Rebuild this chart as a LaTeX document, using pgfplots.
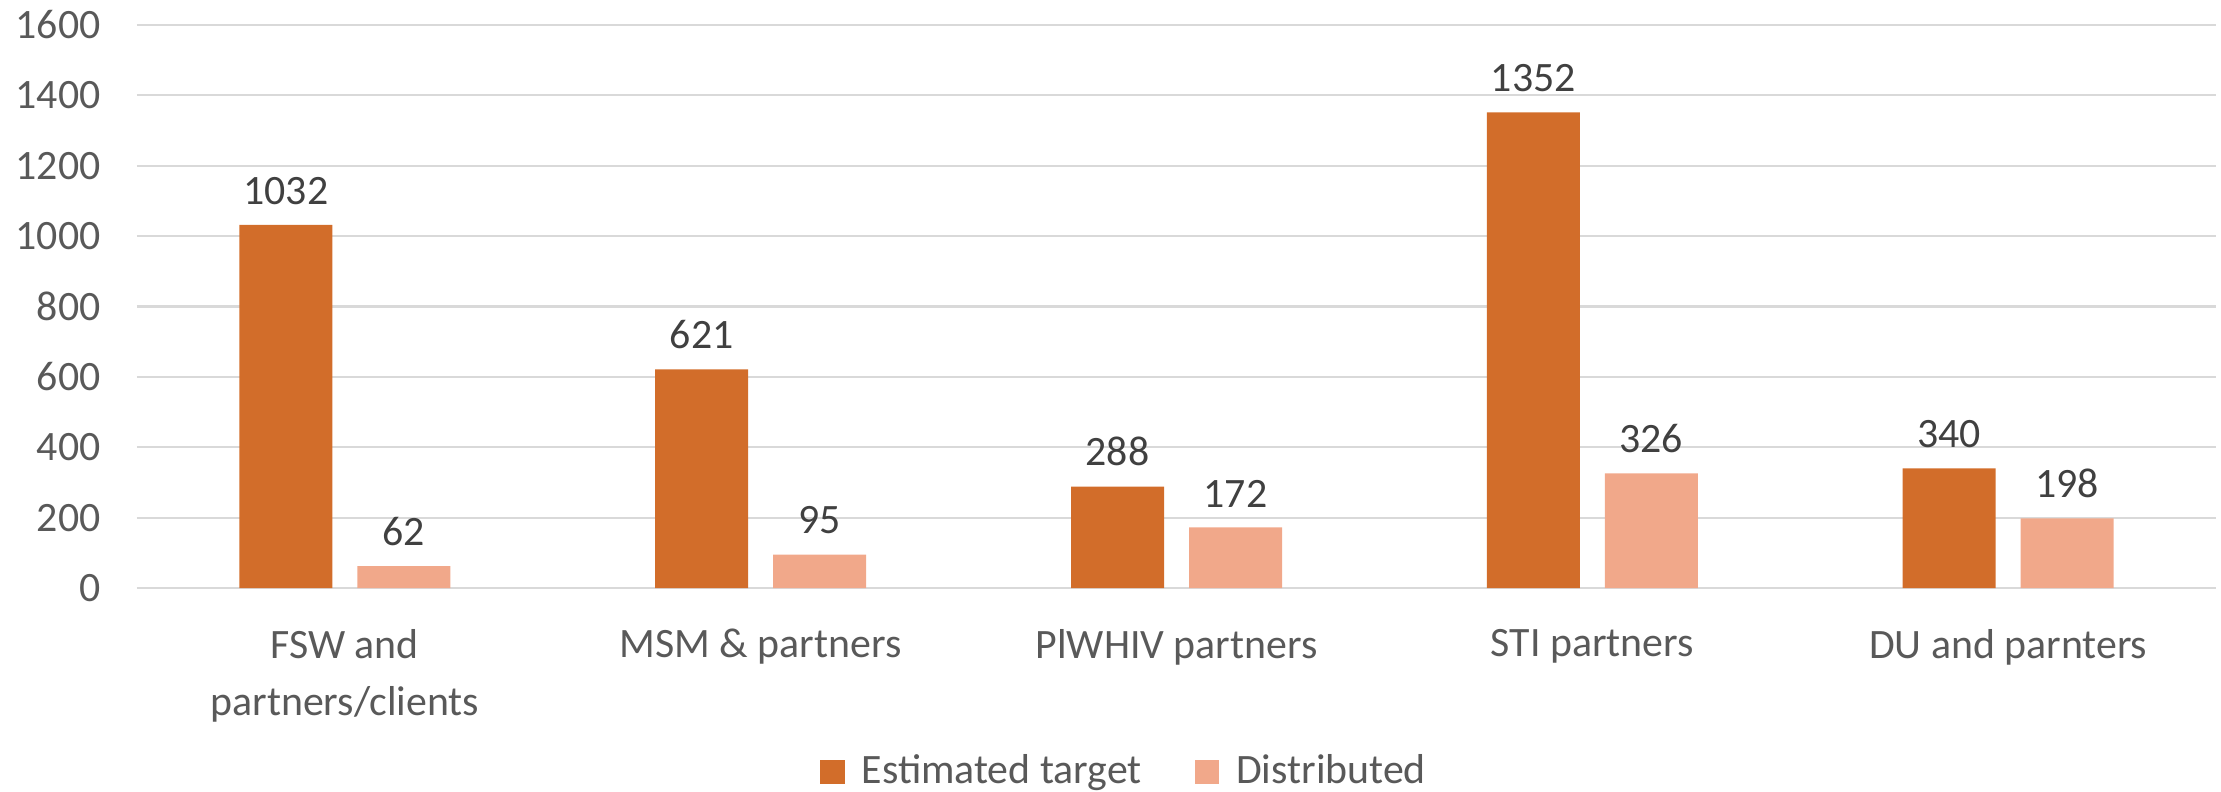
\documentclass[border=0pt]{standalone}
\usepackage{fontspec}
\setmainfont{Carlito}
\usepackage{pgfplots}
\pgfplotsset{compat=1.18}
\definecolor{target}{HTML}{D26D2A}
\definecolor{distrib}{HTML}{F1A88A}
\definecolor{gridgray}{HTML}{D9D9D9}
\definecolor{ticktext}{HTML}{595959}
\definecolor{valtext}{HTML}{404040}
\newcommand{\chartfont}{\fontsize{11.9}{16.2}\selectfont}

\begin{document}
\begin{tikzpicture}
\useasboundingbox (-1.37,-2.03) rectangle (20.84,5.88);
\begin{axis}[
  at={(0,0)}, anchor=south west,
  scale only axis, width=20.79cm, height=5.63cm,
  ybar=2.5mm, bar width=9.3mm,
  xmin=-0.5, xmax=4.5, ymin=0, ymax=1600,
  ytick={0,200,...,1600},
  xtick={0,1,2,3,4},
  xticklabels={{FSW and\\partners/clients},{MSM \& partners},{PlWHIV partners},{STI partners},{DU and parnters}},
  x tick label style={align=center, yshift=-2.9mm},
  y tick label style={xshift=-2.4mm},
  tick label style={font=\chartfont, text=ticktext},
  major tick length=0pt,
  axis line style={draw=none},
  ymajorgrids, grid style={gridgray, line width=0.6pt},
  nodes near coords,
  nodes near coords style={font=\chartfont, text=valtext, yshift=0.8mm},
  /pgf/number format/assume math mode=true,
  /pgf/number format/1000 sep={},
  legend style={at={(0.476,-0.327)}, anchor=center, draw=none, legend columns=2,
    font=\chartfont, text=ticktext,
    /tikz/every odd column/.append style={column sep=1mm},
    /tikz/every even column/.append style={column sep=4.6mm}},
  legend image code/.code={\fill[#1] (0mm,-1.2mm) rectangle (2.45mm,1.25mm);},
]
\addplot[fill=target, draw=none] coordinates {(0,1032) (1,621) (2,288) (3,1352) (4,340)};
\addplot[fill=distrib, draw=none] coordinates {(0,62) (1,95) (2,172) (3,326) (4,198)};
\legend{Estimated target, Distributed}
\end{axis}
\end{tikzpicture}
\end{document}
